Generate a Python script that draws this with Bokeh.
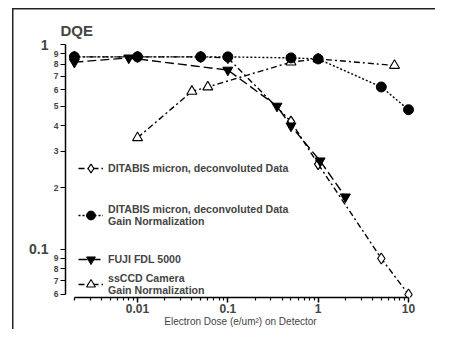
from bokeh.plotting import figure
from bokeh.models import FixedTicker, Legend, LegendItem, LogAxis
from bokeh.embed import file_html
from bokeh.resources import INLINE

# ---- data ----
dose_ditabis = [0.002, 0.01, 0.05, 0.1, 0.5, 1, 5, 10]
dqe_deconv = [0.87, 0.87, 0.87, 0.86, 0.42, 0.26, 0.09, 0.06]
dqe_gain = [0.87, 0.87, 0.87, 0.87, 0.86, 0.85, 0.62, 0.48]
dose_fuji = [0.002, 0.008, 0.1, 0.35, 0.5, 1.05, 2]
dqe_fuji = [0.82, 0.86, 0.75, 0.50, 0.40, 0.27, 0.18]
dose_ccd = [0.01, 0.04, 0.06, 0.5, 1, 7]
dqe_ccd = [0.35, 0.59, 0.62, 0.82, 0.85, 0.79]

x_major = [0.01, 0.1, 1, 10]
x_major_labels = ["0.01", "0.1", "1", "10"]
x_minor = [0.002, 0.003, 0.004, 0.005, 0.006, 0.007, 0.008, 0.009,
           0.02, 0.03, 0.04, 0.05, 0.06, 0.07, 0.08, 0.09,
           0.2, 0.3, 0.4, 0.5, 0.6, 0.7, 0.8, 0.9,
           2, 3, 4, 5, 6, 7, 8, 9]
y_ticks = [0.06, 0.07, 0.08, 0.09, 0.1, 0.2, 0.3, 0.4, 0.5, 0.6, 0.7, 0.8, 0.9, 1]
y_tick_labels = ["6", "7", "8", "9", "", "2", "3", "4", "5", "6", "7", "8", "9", ""]
y_decades = [0.1, 1]
y_decade_labels = ["0.1", "1"]

labels = ["DITABIS micron, deconvoluted Data",
          "DITABIS micron, deconvoluted Data\nGain Normalization",
          "FUJI FDL 5000",
          "ssCCD Camera\nGain Normalization"]

FONT = "Liberation Sans"

p = figure(width=435, height=329, x_axis_type="log", y_axis_type="log",
           x_range=(0.001595, 11.95), y_range=(0.058, 1.0),
           output_backend="svg", toolbar_location=None,
           min_border_left=65, min_border_right=20, min_border_top=44, min_border_bottom=32)
p.outline_line_color = None
p.grid.visible = False
p.background_fill_color = "white"
p.border_fill_alpha = 0
p.styles = {"background": "linear-gradient(#222,#222) 12px 8px / 1.5px 400px no-repeat, "
                          "linear-gradient(#222,#222) 12px 8px / 500px 1.5px no-repeat, white"}

p.title.text = "DQE"
p.title.text_font = FONT
p.title.text_font_style = "bold"
p.title.text_font_size = "15px"
p.title.align = "left"
p.title.offset = -5
p.title.standoff = 12

xa = p.xaxis[0]
xa.ticker = FixedTicker(ticks=x_major, minor_ticks=x_minor)
xa.major_label_overrides = {t: s for t, s in zip(x_major, x_major_labels)}
xa.major_label_text_font = FONT
xa.major_label_text_font_style = "bold"
xa.major_label_text_font_size = "12px"
xa.major_label_standoff = 1
xa.major_tick_out = 5
xa.major_tick_in = 0
xa.minor_tick_out = 3
xa.minor_tick_in = 0
xa.bounds = (0.002, 10)
xa.axis_line_width = 1.5
xa.major_tick_line_width = 1.5
xa.minor_tick_line_width = 1.2
xa.axis_label = "Electron Dose (e/um\u00b2) on Detector"
xa.axis_label_text_font = FONT
xa.axis_label_text_font_style = "normal"
xa.axis_label_text_font_size = "10px"
xa.axis_label_standoff = 0

ya = p.yaxis[0]
ya.ticker = FixedTicker(ticks=y_ticks, minor_ticks=[])
ya.major_label_overrides = {t: s for t, s in zip(y_ticks, y_tick_labels)}
ya.major_label_text_font = FONT
ya.major_label_text_font_style = "bold"
ya.major_label_text_font_size = "8.5px"
ya.major_label_standoff = 2
ya.major_tick_out = 5
ya.major_tick_in = 0
ya.bounds = (0.06, 1)
ya.axis_line_width = 1.5
ya.major_tick_line_width = 1.2

ya2 = LogAxis(ticker=FixedTicker(ticks=y_decades, minor_ticks=[]),
              major_label_overrides={t: s for t, s in zip(y_decades, y_decade_labels)},
              major_label_text_font=FONT, major_label_text_font_style="bold",
              major_label_text_font_size="14px", major_label_standoff=2,
              axis_line_color=None, major_tick_line_color=None, minor_tick_line_color=None,
              major_tick_out=0, major_tick_in=0)
p.add_layout(ya2, "left")

LW = 1.4
r1l = p.line(dose_ditabis, dqe_deconv, line_color="black", line_width=LW, line_dash="6 3 2 3")
r1s = p.scatter(dose_ditabis, dqe_deconv, marker="diamond", size=11,
                fill_color="white", line_color="black", line_width=1.2)
r3l = p.line(dose_fuji, dqe_fuji, line_color="black", line_width=LW, line_dash="9 4")
r3s = p.scatter(dose_fuji, dqe_fuji, marker="inverted_triangle", size=10,
                fill_color="black", line_color="black")
r4l = p.line(dose_ccd, dqe_ccd, line_color="black", line_width=LW, line_dash="6 3 2 3")
r4s = p.scatter(dose_ccd, dqe_ccd, marker="triangle", size=10,
                fill_color="white", line_color="black", line_width=1.1)
r2l = p.line(dose_ditabis, dqe_gain, line_color="black", line_width=LW, line_dash="2 2")
r2s = p.scatter(dose_ditabis, dqe_gain, marker="circle", size=10,
                fill_color="black", line_color="black")

legend_rows = [([r1l, r1s], 118, 1.2), ([r2l, r2s], 70, 1.4),
               ([r3l, r3s], 27, 1.2), ([r4l, r4s], 1, 1.25)]
for (rs, ypos, lh), lab in zip(legend_rows, labels):
    leg = Legend(items=[LegendItem(label=lab, renderers=rs)], location=(13, ypos),
                 label_text_font=FONT, label_text_font_style="bold",
                 label_text_font_size="10.6px", label_text_line_height=lh,
                 glyph_width=25, glyph_height=22,
                 label_height=22, label_standoff=5, padding=0, margin=0, spacing=0,
                 border_line_color=None, background_fill_alpha=0)
    p.add_layout(leg)

open("out.html", "w").write(file_html(p, INLINE))
